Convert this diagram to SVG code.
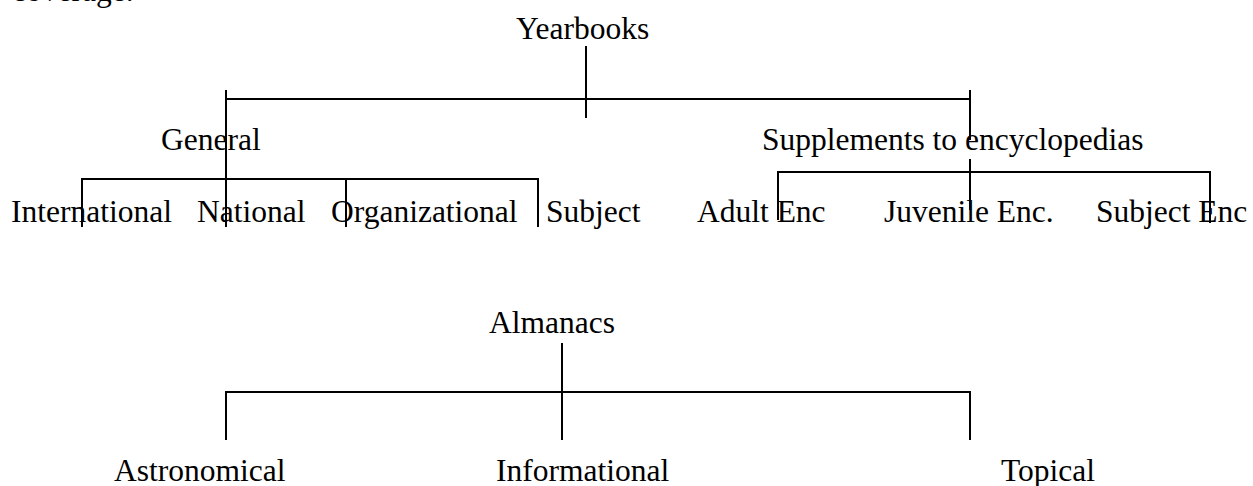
<svg xmlns="http://www.w3.org/2000/svg" width="1253" height="486" viewBox="0 0 1253 486">
<style>
text{font-family:"Liberation Serif","Times New Roman",serif;font-size:31.5px;fill:#000}
.c line{stroke:#000;stroke-width:2;fill:none}
</style>
<rect width="1253" height="486" fill="#fff"/>
<text x="12" y="1">coverage.</text>
<g id="connectors" class="c">
<line x1="586" y1="46" x2="586" y2="118"/>
<line x1="225" y1="99" x2="971" y2="99"/>
<line x1="226" y1="90" x2="226" y2="227"/>
<line x1="970" y1="90" x2="970" y2="140"/>
<line x1="81" y1="179" x2="539" y2="179"/>
<line x1="82" y1="178" x2="82" y2="227"/>
<line x1="346" y1="178" x2="346" y2="227"/>
<line x1="538" y1="178" x2="538" y2="227"/>
<line x1="777" y1="172" x2="1211" y2="172"/>
<line x1="778" y1="171" x2="778" y2="220"/>
<line x1="1210" y1="171" x2="1210" y2="223"/>
<line x1="970" y1="159" x2="970" y2="210"/>
<line x1="562" y1="343" x2="562" y2="440"/>
<line x1="225" y1="392" x2="971" y2="392"/>
<line x1="226" y1="391" x2="226" y2="440"/>
<line x1="970" y1="391" x2="970" y2="440"/>
</g>
<g id="yearbooks"><text x="516" y="39">Yearbooks</text></g>
<g id="general"><text x="161" y="150">General</text></g>
<g id="supplements"><text x="762" y="150">Supplements to encyclopedias</text></g>
<g id="international"><text x="11" y="222">International</text></g>
<g id="national"><text x="197" y="222">National</text></g>
<g id="organizational"><text x="331" y="222">Organizational</text></g>
<g id="subject"><text x="546" y="222">Subject</text></g>
<g id="adult-enc"><text x="697" y="222">Adult Enc</text></g>
<g id="juvenile-enc"><text x="884" y="222">Juvenile Enc.</text></g>
<g id="subject-enc"><text x="1096" y="222">Subject Enc</text></g>
<g id="almanacs"><text x="489" y="333">Almanacs</text></g>
<g id="astronomical"><text x="114" y="481">Astronomical</text></g>
<g id="informational"><text x="496" y="481">Informational</text></g>
<g id="topical"><text x="1001" y="481">Topical</text></g>
</svg>
